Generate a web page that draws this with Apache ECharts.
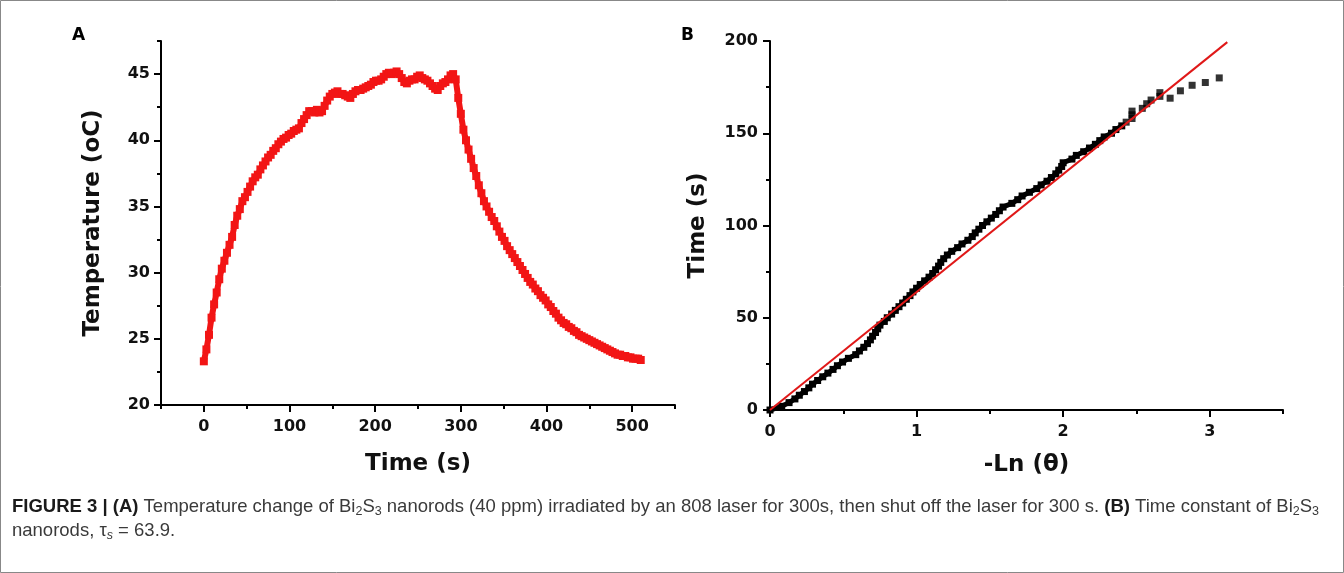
<!DOCTYPE html>
<html><head><meta charset="utf-8">
<script src="https://cdn.jsdelivr.net/npm/echarts@6/dist/echarts.min.js"></script>
<style>html,body{margin:0;padding:0;background:#fff}#c{width:1344px;height:573px}</style>
</head><body><div id="c"></div>
<script>
// Panel A: temperature vs time
const timeA = [0,3,6,9,12,15,18,21,24,27,30,33,36,39,42,45,48,51,54,57,60,63,66,69,72,75,78,81,84,87,90,93,96,99,102,105,108,111,114,117,120,123,126,129,132,135,138,141,144,147,150,153,156,159,162,165,168,171,174,177,180,183,186,189,192,195,198,201,204,207,210,213,216,219,222,225,228,231,234,237,240,243,246,249,252,255,258,261,264,267,270,273,276,279,282,285,288,291,294,
297,300,303,306,309,312,315,318,321,324,327,330,333,336,339,342,345,348,351,354,357,360,363,366,369,372,375,378,381,384,387,390,393,396,399,402,405,408,411,414,417,420,423,426,429,432,435,438,441,444,447,450,453,456,459,462,465,468,471,474,477,480,483,486,489,492,495,498,501,504,507,510];
const tempA = [
23.3,24.2,25.3,26.6,27.6,28.5,29.5,30.3,30.9,31.5,
32.1,32.7,33.6,34.3,34.8,35.4,35.7,36.1,36.5,36.9,
37.2,37.4,37.8,38.1,38.4,38.7,38.9,39.2,39.4,39.7,
39.9,40.1,40.2,40.4,40.5,40.7,40.8,40.9,41.3,41.6,
41.9,42.2,42.2,42.1,42.3,42.1,42.2,42.6,43.0,43.3,
43.5,43.6,43.7,43.5,43.5,43.4,43.3,43.2,43.5,43.7,
43.8,43.8,43.9,44.0,44.1,44.2,44.4,44.5,44.5,44.6,
44.8,45.0,45.1,45.0,45.1,45.2,45.0,44.7,44.4,44.3,
44.5,44.6,44.6,44.8,44.9,44.7,44.6,44.5,44.3,44.1,
43.9,43.8,44.1,44.3,44.4,44.6,44.9,45.0,44.6,
43.2,42.0,40.8,40.0,39.3,38.6,37.9,37.3,36.6,36.0,
35.4,35.0,34.6,34.2,33.9,33.5,33.1,32.7,32.4,32.0,
31.7,31.4,31.1,30.8,30.5,30.2,29.9,29.6,29.3,29.1,
28.8,28.6,28.3,28.1,27.9,27.6,27.4,27.1,26.9,26.6,
26.4,26.2,26.1,25.9,25.8,25.6,25.5,25.3,25.2,25.1,
25.0,24.9,24.8,24.7,24.6,24.5,24.4,24.3,24.2,24.1,
24.0,23.9,23.8,23.8,23.7,23.7,23.6,23.6,23.5,23.5,
23.5,23.4];
// Panel B: time vs -ln(theta), dense part
const lnB = [0.00,0.08,0.13,0.17,0.20,0.235,0.265,0.29,0.325,0.36,0.395,0.43,0.46,0.495,0.535,0.585,0.61,0.64,0.665,0.685,
0.70,0.72,0.735,0.75,0.78,0.80,0.83,0.855,0.88,0.905,0.93,0.955,0.975,1.00,1.025,1.055,1.085,1.11,1.13,1.15,
1.165,1.185,1.21,1.24,1.28,1.31,1.35,1.38,1.40,1.425,1.45,1.48,1.51,1.54,1.565,1.59,1.65,1.69,1.72,1.77,
1.82,1.85,1.89,1.92,1.95,1.97,1.99,2.00,2.06,2.09,2.14,2.18,2.22,2.25,2.28,2.33,2.36,2.40];
const timeB = [0,2,4,6,8,10,12,14,16,18,20,22,24,26,28,30,32,34,36,38,
40,42,44,46,48,50,52,54,56,58,60,62,64,66,68,70,72,74,76,78,
80,82,84,86,88,90,92,94,96,98,100,102,104,106,108,110,112,114,116,118,
120,122,124,126,128,130,132,134,136,138,140,142,144,146,148,150,152,154];
// Panel B: sparse tail
const lnBTail = [2.43,2.47,2.47,2.47,2.54,2.57,2.60,2.66,2.66,2.73,2.80,2.88,2.97,3.065];
const timeBTail = [156,158,160,162,163.5,166,168,170,172,169,173,176,177.5,180];
// Linear fit
const fitX = [0, 3.12];
const fitY = [0, 199.4];
// tick values
const xTicksA = [0,100,200,300,400,500];
const xMinorA = [-50,50,150,250,350,450,550];
const yTicksA = [20,25,30,35,40,45];
const yMinorA = [22.5,27.5,32.5,37.5,42.5,47.5];
const xTicksB = [0,1,2,3];
const xMinorB = [0.5,1.5,2.5,3.5];
const yTicksB = [0,50,100,150,200];
const yMinorB = [25,75,125,175];

const F = 'DejaVu Sans';
const CF = 'Liberation Sans';
const chart = echarts.init(document.getElementById('c'), null, {renderer:'canvas'});
const lineS = {show:true, lineStyle:{color:'#000', width:2}, onZero:false};
function lbl(ticks, margin){
  return {show:true, customValues:ticks, color:'#111', fontFamily:F, fontWeight:'bold', fontSize:16, margin:margin};
}
function mainAxis(grid, min, max, ticks, pos, margin, extra){
  return Object.assign({
    type:'value', gridIndex:grid, min:min, max:max, position:pos,
    axisLine: lineS,
    axisTick:{show:true, inside:false, length:7, lineStyle:{color:'#000', width:2}, customValues:ticks},
    axisLabel: lbl(ticks, margin),
    splitLine:{show:false}
  }, extra||{});
}
function minorAxis(grid, min, max, ticks, pos){
  return {
    type:'value', gridIndex:grid, min:min, max:max, position:pos,
    axisLine:{show:false, onZero:false},
    axisTick:{show:true, inside:false, length:4, lineStyle:{color:'#000', width:2}, customValues:ticks},
    axisLabel:{show:false}, splitLine:{show:false}
  };
}
const nameStyle = {fontFamily:F, fontWeight:'bold', fontSize:23, color:'#111'};

const dataA = timeA.map((t,i)=>[t, tempA[i]]);
const dataB = lnB.map((x,i)=>[x, timeB[i]]);
const dataBTail = lnBTail.map((x,i)=>[x, timeBTail[i]]);
const dataFit = fitX.map((x,i)=>[x, fitY[i]]);

chart.setOption({
  animation:false,
  backgroundColor:'#fff',
  grid:[
    {left:161, top:41, width:514, height:364},
    {left:770, top:41, width:513, height:369}
  ],
  xAxis:[
    mainAxis(0,-50,550,xTicksA,'bottom',14,{name:'Time (s)', nameLocation:'middle', nameGap:48, nameTextStyle:nameStyle}),
    minorAxis(0,-50,550,xMinorA,'bottom'),
    mainAxis(1,0,3.5,xTicksB,'bottom',14,{name:'-Ln (\u03b8)', nameLocation:'middle', nameGap:44, nameTextStyle:nameStyle}),
    minorAxis(1,0,3.5,xMinorB,'bottom')
  ],
  yAxis:[
    mainAxis(0,20,47.5,yTicksA,'left',11,{name:'Temperature (oC)', nameLocation:'middle', nameRotate:90, nameGap:56, nameTextStyle:nameStyle}),
    minorAxis(0,20,47.5,yMinorA,'left'),
    mainAxis(1,0,200,yTicksB,'left',12,{name:'Time (s)', nameLocation:'middle', nameRotate:90, nameGap:60, nameTextStyle:nameStyle}),
    minorAxis(1,0,200,yMinorB,'left')
  ],
  series:[
    {type:'line', xAxisIndex:0, yAxisIndex:0, data:dataA, symbol:'rect', symbolSize:8, showAllSymbol:true,
     itemStyle:{color:'#f21515'}, lineStyle:{color:'#f21515', width:6}, clip:false},
    {type:'line', xAxisIndex:2, yAxisIndex:2, data:dataB, symbol:'rect', symbolSize:7, showAllSymbol:true,
     itemStyle:{color:'#000'}, lineStyle:{color:'#000', width:5}, clip:false},
    {type:'scatter', xAxisIndex:2, yAxisIndex:2, data:dataBTail, symbol:'rect', symbolSize:[7,7],
     itemStyle:{color:'#000'}, clip:false},
    {type:'line', xAxisIndex:2, yAxisIndex:2, data:dataFit, symbol:'none',
     lineStyle:{color:'#e01818', width:2}, clip:false, z:5}
  ],
  graphic:[
    {type:'rect', shape:{x:0.5, y:0.5, width:1343, height:572}, style:{fill:'none', stroke:'#888', lineWidth:1}, silent:true},
    {type:'text', left:72, top:27, style:{text:'A', fontFamily:F, fontWeight:'bold', fontSize:17, fill:'#000'}},
    {type:'text', left:681, top:27, style:{text:'B', fontFamily:F, fontWeight:'bold', fontSize:17, fill:'#000'}},
    {type:'text', left:12, top:496, style:{
      text:'{b|FIGURE 3 | (A)} Temperature change of Bi{s|2}S{s|3} nanorods (40 ppm) irradiated by an 808 laser for 300s, then shut off the laser for 300 s. {b|(B)} Time constant of Bi{s|2}S{s|3}',
      fontFamily:CF, fontSize:18.5, fill:'#3a3a3a', lineHeight:22,
      rich:{
        b:{fontFamily:CF, fontWeight:'bold', fontSize:18.5, fill:'#1a1a1a', lineHeight:22},
        s:{fontFamily:CF, fontSize:12.5, fill:'#3a3a3a', verticalAlign:'bottom', lineHeight:22}
      }}},
    {type:'text', left:12, top:520, style:{
      text:'nanorods, \u03c4{s|s} = 63.9.',
      fontFamily:CF, fontSize:18.5, fill:'#3a3a3a', lineHeight:22,
      rich:{
        s:{fontFamily:CF, fontStyle:'italic', fontSize:12.5, fill:'#3a3a3a', verticalAlign:'bottom', lineHeight:22}
      }}}
  ]
});
</script>
</body></html>
